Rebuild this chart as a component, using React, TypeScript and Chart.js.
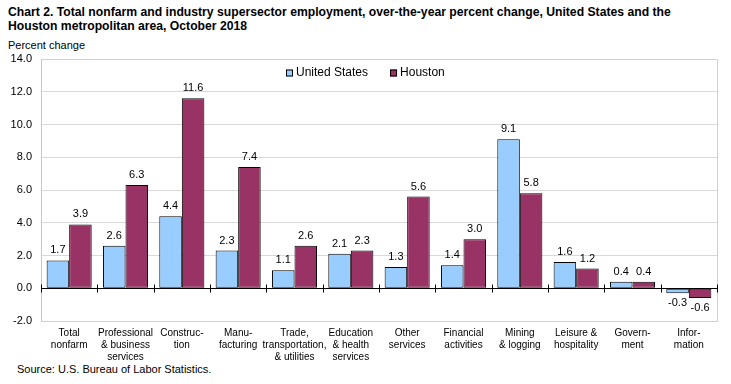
import React, { useEffect, useRef } from "react";
import { Chart, registerables } from "chart.js";

Chart.register(...registerables);

const categories: string[][] = [
  ["Total", "nonfarm"],
  ["Professional", "& business", "services"],
  ["Construc-", "tion"],
  ["Manu-", "facturing"],
  ["Trade,", "transportation,", "& utilities"],
  ["Education", "& health", "services"],
  ["Other", "services"],
  ["Financial", "activities"],
  ["Mining", "& logging"],
  ["Leisure &", "hospitality"],
  ["Govern-", "ment"],
  ["Infor-", "mation"],
];
const unitedStates: number[] = [1.7, 2.6, 4.4, 2.3, 1.1, 2.1, 1.3, 1.4, 9.1, 1.6, 0.4, -0.3];
const houston: number[] = [3.9, 6.3, 11.6, 7.4, 2.6, 2.3, 5.6, 3.0, 5.8, 1.2, 0.4, -0.6];
const yMin = -2;
const yMax = 14;
const yStep = 2;

const FONT = "Arial, 'Liberation Sans', sans-serif";

const decorPlugin = {
  id: "decor",
  beforeDatasetsDraw(chart: any) {
    const { ctx, chartArea } = chart;
    ctx.save();
    ctx.strokeStyle = "#d0d0d0";
    ctx.lineWidth = 1;
    ctx.beginPath();
    ctx.moveTo(chartArea.left, chartArea.top + 0.5);
    ctx.lineTo(chartArea.right + 0.5, chartArea.top + 0.5);
    ctx.lineTo(chartArea.right + 0.5, chartArea.bottom + 0.5);
    ctx.lineTo(chartArea.left, chartArea.bottom + 0.5);
    ctx.stroke();
    ctx.restore();
  },
  afterDatasetsDraw(chart: any) {
    const { ctx, chartArea, scales } = chart;
    const y0 = Math.round(scales.y.getPixelForValue(0)) + 0.5;
    ctx.save();
    ctx.strokeStyle = "#000";
    ctx.lineWidth = 1;
    ctx.beginPath();
    ctx.moveTo(chartArea.left, y0);
    ctx.lineTo(chartArea.right, y0);
    const n = categories.length;
    const w = (chartArea.right - chartArea.left) / n;
    for (let i = 0; i <= n; i++) {
      const x = Math.round(chartArea.left + i * w) + 0.5;
      ctx.moveTo(x, y0 - 4);
      ctx.lineTo(x, y0 + 4);
    }
    ctx.stroke();
    // value labels
    ctx.fillStyle = "#000";
    ctx.font = `11px ${FONT}`;
    ctx.textAlign = "center";
    chart.data.datasets.forEach((ds: any, di: number) => {
      const meta = chart.getDatasetMeta(di);
      meta.data.forEach((bar: any, i: number) => {
        const v = ds.data[i];
        const txt = v.toFixed(1);
        if (v >= 0) {
          ctx.textBaseline = "alphabetic";
          ctx.fillText(txt, bar.x, bar.y - 7);
        } else {
          ctx.textBaseline = "middle";
          ctx.fillText(txt, bar.x, bar.y + 10);
        }
      });
    });
    // legend
    ctx.font = `12px ${FONT}`;
    ctx.textAlign = "left";
    ctx.textBaseline = "middle";
    const box = 7;
    const gapText = 3;
    const gapItem = 22;
    const items = chart.data.datasets.map((ds: any) => ({
      label: ds.label,
      color: ds.backgroundColor,
      w: box + gapText + ctx.measureText(ds.label).width,
    }));
    const total = items.reduce((s: number, it: any) => s + it.w, 0) + gapItem * (items.length - 1);
    let x = Math.round(chart.width / 2 - total / 2);
    const cy = chartArea.top + 14;
    items.forEach((it: any) => {
      ctx.fillStyle = it.color;
      ctx.fillRect(x, cy - 3.5, box, box);
      ctx.strokeStyle = "#000";
      ctx.strokeRect(x + 0.5, cy - 3, box - 1, box - 1);
      ctx.fillStyle = "#000";
      ctx.fillText(it.label, x + box + gapText, cy);
      x += it.w + gapItem;
    });
    ctx.restore();
  },
};

export default function App() {
  const ref = useRef<HTMLCanvasElement | null>(null);
  useEffect(() => {
    if (!ref.current) return;
    const chart = new Chart(ref.current, {
      type: "bar",
      data: {
        labels: categories,
        datasets: [
          {
            label: "United States",
            data: unitedStates,
            backgroundColor: "#99CCFF",
            borderColor: "#000",
            borderWidth: 1,
            borderSkipped: false,
          },
          {
            label: "Houston",
            data: houston,
            backgroundColor: "#993366",
            borderColor: "#000",
            borderWidth: 1,
            borderSkipped: false,
          },
        ],
      },
      options: {
        responsive: false,
        animation: false,
        devicePixelRatio: 1,
        layout: { padding: { top: 59, right: 14, left: 0, bottom: 0 } },
        datasets: { bar: { categoryPercentage: 0.8, barPercentage: 1.0 } },
        plugins: {
          tooltip: { enabled: false },
          title: { display: false },
          legend: { display: false },
        },
        scales: {
          x: {
            grid: { display: false, drawTicks: false },
            border: { display: false },
            ticks: {
              color: "#000",
              font: { family: FONT, size: 10 },
              padding: 6,
              maxRotation: 0,
              autoSkip: false,
            },
            afterFit(scale: any) {
              scale.height = 63;
            },
          },
          y: {
            min: yMin,
            max: yMax,
            grid: { color: "#d9d9d9", drawTicks: false },
            border: { display: true, color: "#c8c8c8" },
            ticks: {
              stepSize: yStep,
              color: "#000",
              font: { family: FONT, size: 11 },
              padding: 9,
              callback: (v: any) => Number(v).toFixed(1),
            },
            afterFit(scale: any) {
              scale.width = 41;
            },
          },
        },
      },
      plugins: [decorPlugin],
    });
    return () => chart.destroy();
  }, []);

  return (
    <div style={{ position: "fixed", left: 0, top: 0, width: 731, height: 384, background: "#fff", fontFamily: FONT }}>
      <div
        style={{
          position: "absolute",
          left: 8,
          top: 5,
          fontWeight: "bold",
          fontSize: 12.5,
          lineHeight: "14px",
          color: "#000",
          whiteSpace: "nowrap",
          transform: "scaleX(0.975)",
          transformOrigin: "left top",
        }}
      >
        Chart 2. Total nonfarm and industry supersector employment, over-the-year percent change, United States and the
        <br />
        Houston metropolitan area, October 2018
      </div>
      <div style={{ position: "absolute", left: 8, top: 39, fontSize: 11, color: "#000" }}>Percent change</div>
      <div style={{ position: "absolute", left: 17, top: 363, fontSize: 11, color: "#000" }}>
        Source: U.S. Bureau of Labor Statistics.
      </div>
      <canvas ref={ref} width={731} height={384} style={{ position: "absolute", left: 0, top: 0 }} />
    </div>
  );
}
